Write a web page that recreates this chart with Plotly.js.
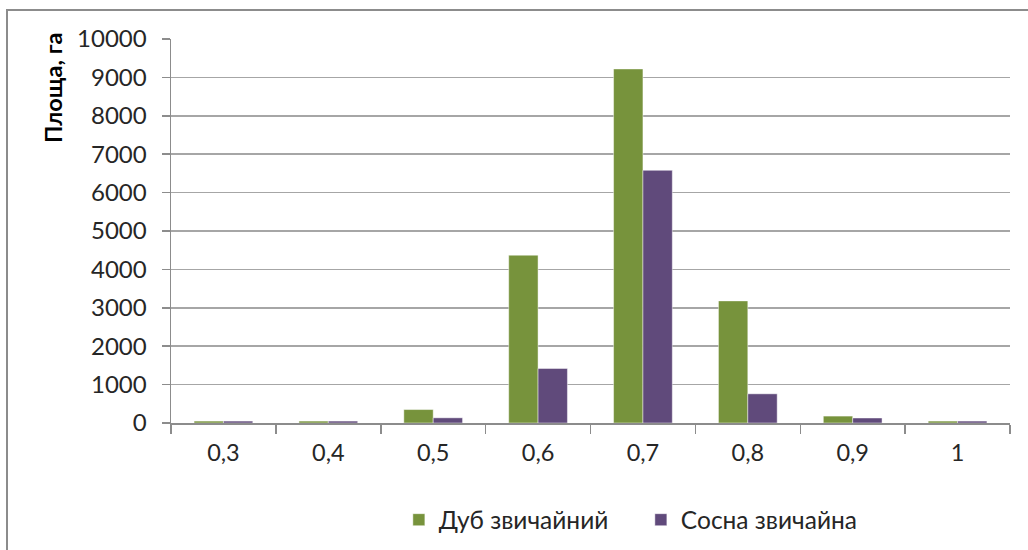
<!DOCTYPE html>
<html>
<head>
<meta charset="utf-8">
<script src="https://cdn.plot.ly/plotly-3.0.1.min.js"></script>
<style>
  html, body { margin: 0; padding: 0; background: #fff; overflow: hidden; }
  #chart { width: 1028px; height: 550px; position: absolute; left: 0; top: 0; }
  #frame { position: absolute; left: 6px; top: 9px; width: 1030px; height: 560px;
           border-left: 2px solid #8c8c8c; border-top: 2px solid #8c8c8c; pointer-events: none; }
</style>
</head>
<body>
<div id="chart"></div>
<div id="frame"></div>
<script>
const categories = ["0,3", "0,4", "0,5", "0,6", "0,7", "0,8", "0,9", "1"];
const seriesNames = ["Дуб звичайний", "Сосна звичайна"];
const oakValues = [50, 50, 350, 4370, 9220, 3180, 180, 50];
const pineValues = [50, 50, 135, 1420, 6580, 760, 130, 50];
const yTicks = [0, 1000, 2000, 3000, 4000, 5000, 6000, 7000, 8000, 9000, 10000];
const yTitle = "Площа, га";

const FONT = "Lato, 'Noto Sans', sans-serif";

const traces = [
  { type: "bar", name: seriesNames[0], x: categories, y: oakValues,
    marker: { color: "#77933C", line: { color: "rgba(255,255,255,0.45)", width: 1 } } },
  { type: "bar", name: seriesNames[1], x: categories, y: pineValues,
    marker: { color: "#604A7B", line: { color: "rgba(255,255,255,0.45)", width: 1 } } }
];

const layout = {
  width: 1028, height: 550,
  margin: { l: 171, r: 18, t: 39, b: 127, pad: 0, autoexpand: false },
  paper_bgcolor: "#ffffff", plot_bgcolor: "#ffffff",
  barmode: "group", bargap: 0.44, bargroupgap: 0,
  font: { family: FONT, size: 23.5, color: "#262626" },
  showlegend: true,
  legend: { orientation: "h", xref: "container", yref: "container", x: 0.388, xanchor: "left",
            y: 0.055, yanchor: "middle", entrywidth: 197, entrywidthmode: "pixels",
            font: { family: FONT, size: 24.5, color: "#262626" }, itemwidth: 28, traceorder: "normal" },
  xaxis: {
    type: "category", tickson: "boundaries", ticks: "outside", ticklen: 9, tickwidth: 1.5, tickcolor: "#8c8c8c",
    showline: true, linecolor: "#8c8c8c", linewidth: 1.5, showgrid: false, zeroline: false,
    tickfont: { family: FONT, size: 23.5, color: "#262626" }, ticklabelstandoff: 8
  },
  yaxis: {
    range: [0, 10000], tickvals: yTicks, ticktext: yTicks.map(String),
    ticks: "outside", ticklen: 8, tickwidth: 1.5, tickcolor: "#8c8c8c",
    showline: true, linecolor: "#8c8c8c", linewidth: 1.5,
    showgrid: true, gridcolor: "#a6a6a6", gridwidth: 1.5, zeroline: false,
    tickfont: { family: FONT, size: 24, color: "#262626" }, ticklabelstandoff: 10
  },
  annotations: [{
    text: "<b>" + yTitle + "</b>", xref: "paper", yref: "paper", x: 0, y: 1,
    xanchor: "center", yanchor: "top", xshift: -118, yshift: 8, textangle: -90, showarrow: false,
    font: { family: FONT, size: 23.5, color: "#000000" }
  }]
};

Plotly.newPlot("chart", traces, layout, { displayModeBar: false, staticPlot: true });
</script>
</body>
</html>
